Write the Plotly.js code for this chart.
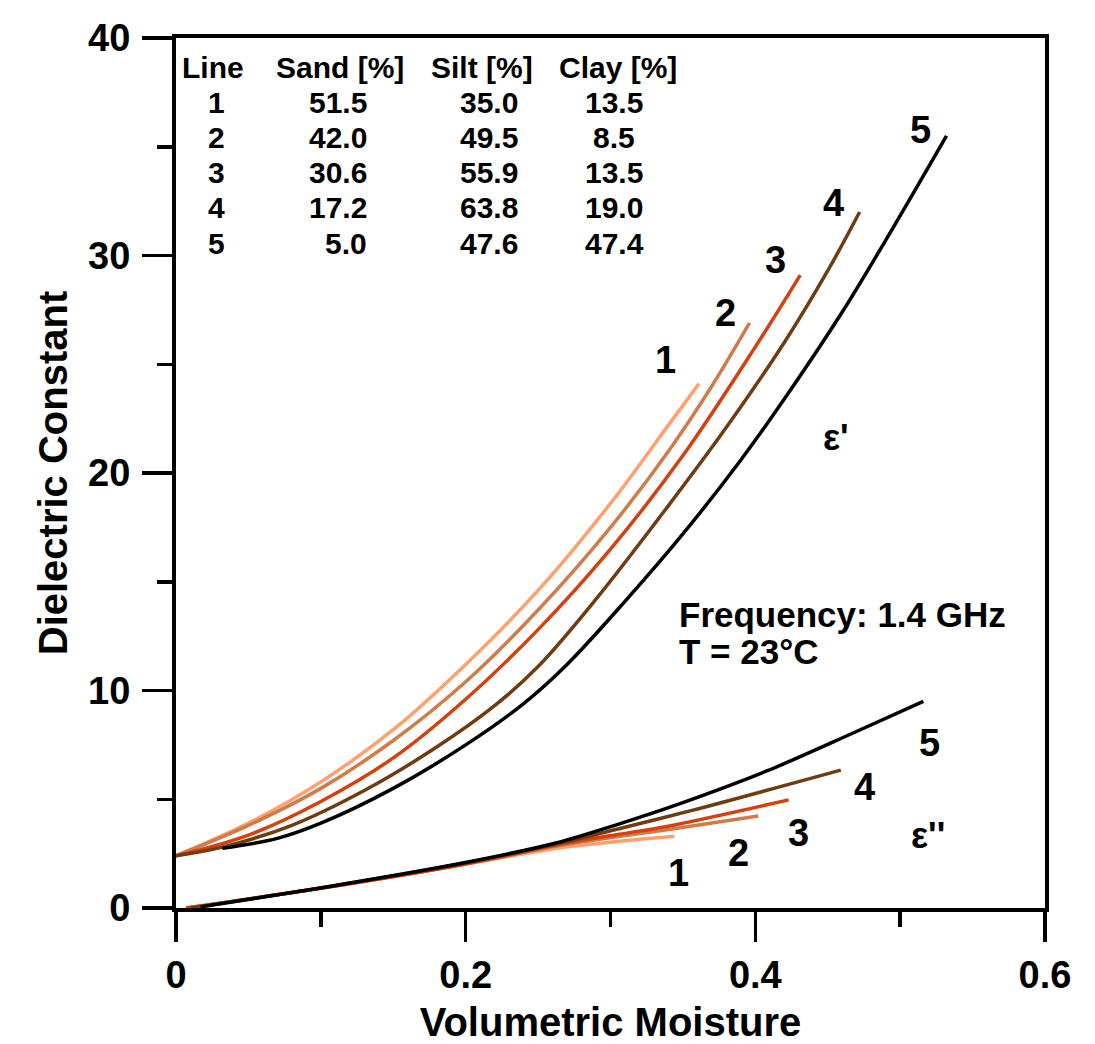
<!DOCTYPE html>
<html>
<head>
<meta charset="utf-8">
<script src="https://cdn.plot.ly/plotly-3.0.1.min.js"></script>
<style>
html,body{margin:0;padding:0;background:#fff;}
#chart{width:1095px;height:1044px;}
</style>
</head>
<body>
<div id="chart"></div>
<script>
// ---- Data ----
// Real part (epsilon')
const ep1_x = [0, 0.05, 0.10, 0.15, 0.20, 0.25, 0.30, 0.34, 0.361];
const ep1_y = [2.4, 3.9, 5.8, 8.2, 11.2, 14.6, 18.6, 22.2, 24.1];
const ep2_x = [0, 0.05, 0.10, 0.15, 0.20, 0.25, 0.30, 0.34, 0.37, 0.396];
const ep2_y = [2.4, 3.8, 5.5, 7.7, 10.4, 13.7, 17.5, 21.0, 24.0, 26.9];
const ep3_x = [0, 0.05, 0.10, 0.15, 0.20, 0.25, 0.30, 0.35, 0.40, 0.431];
const ep3_y = [2.4, 3.35, 4.9, 6.9, 9.6, 12.8, 16.5, 20.8, 25.8, 29.1];
const ep4_x = [0, 0.032, 0.08, 0.13, 0.18, 0.22, 0.25, 0.29, 0.34, 0.38, 0.42, 0.45, 0.472];
const ep4_y = [2.4, 2.8, 3.8, 5.4, 7.4, 9.3, 11.1, 14.2, 18.5, 22.1, 26.0, 29.3, 32.0];
const ep5_x = [0.032, 0.07, 0.10, 0.15, 0.20, 0.24, 0.27, 0.31, 0.35, 0.39, 0.42, 0.46, 0.49, 0.532];
const ep5_y = [2.75, 3.2, 3.9, 5.5, 7.5, 9.4, 11.2, 14.1, 17.2, 20.6, 23.4, 27.4, 30.7, 35.5];
// Imaginary part (epsilon'')
const epp1_x = [0.007, 0.104, 0.198, 0.263, 0.303, 0.344];
const epp1_y = [0, 0.95, 2.0, 2.75, 3.05, 3.3];
const epp2_x = [0.007, 0.104, 0.198, 0.263, 0.303, 0.339, 0.402];
const epp2_y = [0, 0.95, 2.0, 2.85, 3.26, 3.6, 4.23];
const epp3_x = [0.007, 0.104, 0.198, 0.263, 0.303, 0.339, 0.423];
const epp3_y = [0, 0.95, 2.0, 2.9, 3.36, 3.75, 4.97];
const epp4_x = [0.010, 0.104, 0.198, 0.263, 0.303, 0.357, 0.459];
const epp4_y = [0, 0.97, 2.05, 2.95, 3.6, 4.5, 6.34];
const epp5_x = [0.017, 0.104, 0.198, 0.263, 0.303, 0.346, 0.408, 0.466, 0.516];
const epp5_y = [0.05, 0.97, 2.07, 3.0, 3.8, 4.75, 6.3, 8.0, 9.5];

// Soil texture table
const lineIds = ["1", "2", "3", "4", "5"];
const sand = [51.5, 42.0, 30.6, 17.2, 5.0];
const silt = [35.0, 49.5, 55.9, 63.8, 47.6];
const clay = [13.5, 8.5, 13.5, 19.0, 47.4];
const tableHeaders = ["Line", "Sand [%]", "Silt [%]", "Clay [%]"];

const colors = ["#FFA06E", "#D07C4A", "#D6400F", "#6E3C10", "#000000"];

// ---- Traces ----
const epX = [ep1_x, ep2_x, ep3_x, ep4_x, ep5_x];
const epY = [ep1_y, ep2_y, ep3_y, ep4_y, ep5_y];
const eppX = [epp1_x, epp2_x, epp3_x, epp4_x, epp5_x];
const eppY = [epp1_y, epp2_y, epp3_y, epp4_y, epp5_y];

const traces = [];
for (let i = 0; i < 5; i++) {
  traces.push({x: eppX[i], y: eppY[i], type: 'scatter', mode: 'lines',
    line: {color: colors[i], width: 3.5, shape: 'spline', smoothing: 0.8}, showlegend: false, hoverinfo: 'skip'});
}
for (let i = 0; i < 5; i++) {
  traces.push({x: epX[i], y: epY[i], type: 'scatter', mode: 'lines',
    line: {color: colors[i], width: 3.5, shape: 'spline', smoothing: 1}, showlegend: false, hoverinfo: 'skip'});
}

// ---- Layout helpers ----
const W = 1095, H = 1044;
const M = {l: 176, r: 50, t: 38, b: 136};
const pw = W - M.l - M.r, ph = H - M.t - M.b;
const px = v => (v - M.l) / pw;
const py = v => (H - M.b - v) / ph;
const FONT = 'Liberation Sans, Arial, sans-serif';

const ann = [];
function txt(text, x, y, size, xanchor) {
  ann.push({text: text, xref: 'paper', yref: 'paper', x: px(x), y: py(y),
    xanchor: xanchor || 'center', yanchor: 'middle', showarrow: false,
    font: {family: FONT, size: size, color: '#000', weight: 'bold'}});
}

// Table
const TS = 30;
const rowY = [67, 102, 137, 173, 208, 243];
txt(tableHeaders[0], 180, rowY[0], TS, 'left');
txt(tableHeaders[1], 274, rowY[0], TS, 'left');
txt(tableHeaders[2], 429, rowY[0], TS, 'left');
txt(tableHeaders[3], 557, rowY[0], TS, 'left');
for (let i = 0; i < lineIds.length; i++) {
  const y = rowY[i + 1];
  txt(lineIds[i], 216, y, TS, 'center');
  txt(sand[i].toFixed(1), 369, y, TS, 'right');
  txt(silt[i].toFixed(1), 520, y, TS, 'right');
  txt(clay[i].toFixed(1), 614, y, TS, 'center');
}

// Curve labels
const LS = 38;
const upperLabelPos = [[665, 360], [725, 313], [775, 260], [833, 203], [920, 130]];
const lowerLabelPos = [[678, 873], [738, 853], [798, 833], [864, 787], [929, 743]];
for (let i = 0; i < 5; i++) {
  txt(lineIds[i], upperLabelPos[i][0], upperLabelPos[i][1], LS);
  txt(lineIds[i], lowerLabelPos[i][0], lowerLabelPos[i][1], LS);
}
txt("ε'", 836, 437, 36);
txt("ε''", 928, 835, 36);

// Conditions
txt("Frequency: 1.4 GHz", 677, 614, 35, 'left');
txt("T = 23°C", 677, 651, 35, 'left');

const axisCommon = {
  showgrid: false, zeroline: false, showline: true, linewidth: 4, linecolor: '#000',
  mirror: true, ticks: 'outside', ticklen: 30, tickwidth: 3.5, tickcolor: '#000',
  tickfont: {family: FONT, size: 38, color: '#000', weight: 'bold'},
};

const layout = {
  width: W, height: H,
  margin: M,
  paper_bgcolor: '#fff', plot_bgcolor: '#fff',
  font: {family: FONT, color: '#000'},
  xaxis: Object.assign({}, axisCommon, {
    range: [0, 0.6], tickmode: 'array', tickvals: [0, 0.2, 0.4, 0.6], ticktext: ['0', '0.2', '0.4', '0.6'],
    minor: {tickvals: [0.1, 0.3, 0.5], ticks: 'outside', ticklen: 15, tickwidth: 3.5, tickcolor: '#000'},
    title: {text: 'Volumetric Moisture', font: {family: FONT, size: 40, color: '#000', weight: 'bold'}, standoff: 16},
    ticklabelstandoff: 0
  }),
  yaxis: Object.assign({}, axisCommon, {
    range: [0, 40], tickmode: 'array', tickvals: [0, 10, 20, 30, 40],
    minor: {tickvals: [5, 15, 25, 35], ticks: 'outside', ticklen: 15, tickwidth: 3.5, tickcolor: '#000'},
    title: {text: 'Dielectric Constant', font: {family: FONT, size: 40, color: '#000', weight: 'bold'}, standoff: 9},
    ticklabelstandoff: 4
  }),
  annotations: ann,
  showlegend: false
};

Plotly.newPlot('chart', traces, layout, {staticPlot: true, displayModeBar: false});
</script>
</body>
</html>
